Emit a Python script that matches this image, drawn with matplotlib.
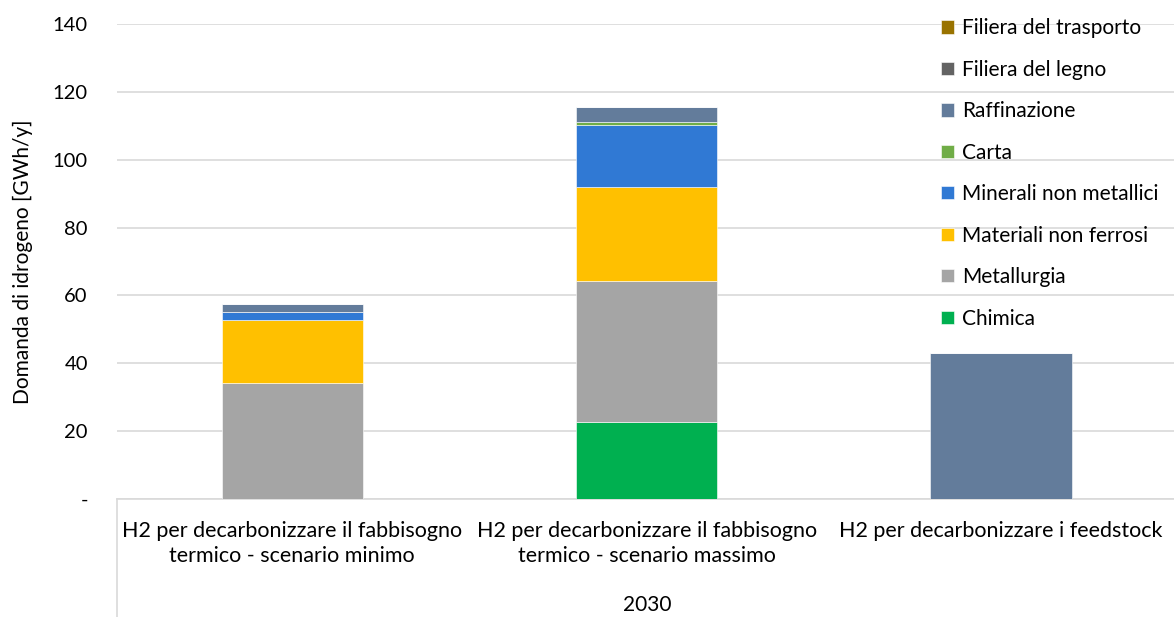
import numpy as np
import matplotlib.pyplot as plt
from matplotlib.lines import Line2D

categories = ["H2 per decarbonizzare il fabbisogno\ntermico - scenario minimo",
              "H2 per decarbonizzare il fabbisogno\ntermico - scenario massimo",
              "H2 per decarbonizzare i feedstock"]
group_label = "2030"

series = ["Chimica", "Metallurgia", "Materiali non ferrosi", "Minerali non metallici",
          "Carta", "Raffinazione", "Filiera del legno", "Filiera del trasporto"]
chimica = [0, 22.7, 0]
metallurgia = [34.2, 41.5, 0]
materiali_non_ferrosi = [18.6, 27.8, 0]
minerali_non_metallici = [2.3, 18.2, 0]
carta = [0, 1.0, 0]
raffinazione = [2.4, 4.2, 43.0]
filiera_legno = [0, 0, 0]
filiera_trasporto = [0, 0.2, 0]

values = [chimica, metallurgia, materiali_non_ferrosi, minerali_non_metallici,
          carta, raffinazione, filiera_legno, filiera_trasporto]
colors = ["#00B050", "#A5A5A5", "#FFC000", "#3079D4",
          "#70AD47", "#637C9B", "#636363", "#997300"]

yticks = [0, 20, 40, 60, 80, 100, 120, 140]
ytick_labels = ["-", "20", "40", "60", "80", "100", "120", "140"]

plt.rcParams['font.family'] = ['Lato', 'DejaVu Sans']

fig = plt.figure(figsize=(11.74, 6.17), dpi=100)
ax = fig.add_axes([117 / 1174, 1 - 499 / 617, 1 - 117 / 1174, (499 - 24) / 617])

x = np.arange(len(categories))
bottom = np.zeros(len(categories))
handles = []
for name, vals, col in zip(series, values, colors):
    vals = np.array(vals, dtype=float)
    b = ax.bar(x, vals, 0.398, bottom=bottom, color=col, edgecolor="white",
               linewidth=0.4, label=name, zorder=3)
    bottom += vals
    handles.append(b)

ax.set_ylim(0, 140)
ax.set_xlim(-0.494, 2.488)
ax.set_yticks(yticks)
ax.set_yticklabels(ytick_labels, fontsize=14.5, color="#000000")
ax.yaxis.grid(True, color="#D9D9D9", linewidth=1.2, zorder=0)
ax.tick_params(axis="y", length=0, pad=21)
ax.tick_params(axis="x", length=0, pad=16)
ax.set_xticks(x)
ax.set_xticklabels(categories, fontsize=15.5, linespacing=1.3)
for s in ["top", "right", "left"]:
    ax.spines[s].set_visible(False)
ax.spines["bottom"].set_color("#D9D9D9")
ax.spines["bottom"].set_linewidth(1.2)
ax.set_ylabel("Domanda di idrogeno [GWh/y]", fontsize=15, labelpad=14)

# left border of the category axis
fig.add_artist(Line2D([117 / 1174, 117 / 1174], [0, 1 - 499 / 617],
                      color="#D9D9D9", linewidth=1.2))
fig.text(647 / 1174, 1 - 605 / 617, group_label, ha="center", va="center", fontsize=15)

leg = ax.legend(handles[::-1], series[::-1], loc="upper left",
                frameon=False, fontsize=15, handlelength=0.6, handleheight=0.6,
                handletextpad=0.4, labelspacing=1.03, borderaxespad=0)
leg.set_bbox_to_anchor((933 / 1174, 1 - 10 / 617), transform=fig.transFigure)

fig.savefig("out.png", dpi=100)
